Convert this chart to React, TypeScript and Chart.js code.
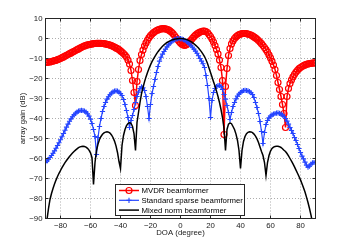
import { useEffect, useRef } from "react";
import { Chart, registerables } from "chart.js";

Chart.register(...registerables);

// DOA sample grid (degrees)
const doa = [
  -90, -89, -88, -87, -86, -85, -84, -83, -82, -81, -80, -79, -78, -77, -76, -75, -74, -73, -72, -71,
  -70, -69, -68, -67, -66, -65, -64, -63, -62, -61, -60, -59, -58, -57, -56, -55, -54, -53, -52, -51,
  -50, -49, -48, -47, -46, -45, -44, -43, -42, -41, -40, -39, -38, -37, -36, -35, -34, -33, -32, -31,
  -30, -29, -28, -27, -26, -25, -24, -23, -22, -21, -20, -19, -18, -17, -16, -15, -14, -13, -12, -11,
  -10, -9, -8, -7, -6, -5, -4, -3, -2, -1, 0, 1, 2, 3, 4, 5, 6, 7, 8, 9,
  10, 11, 12, 13, 14, 15, 16, 17, 18, 19, 20, 21, 22, 23, 24, 25, 26, 27, 28, 29,
  30, 31, 32, 33, 34, 35, 36, 37, 38, 39, 40, 41, 42, 43, 44, 45, 46, 47, 48, 49,
  50, 51, 52, 53, 54, 55, 56, 57, 58, 59, 60, 61, 62, 63, 64, 65, 66, 67, 68, 69,
  70, 71, 72, 73, 74, 75, 76, 77, 78, 79, 80, 81, 82, 83, 84, 85, 86, 87, 88, 89, 90,
];

// MVDR beamformer (dB)
const mvdrGain = [
  -12.0, -11.9, -11.8, -11.7, -11.5, -11.3, -11.1, -10.9, -10.6, -10.3, -10.0, -9.6, -9.2, -8.8, -8.4, -8.0, -7.6, -7.2, -6.8, -6.4,
  -6.0, -5.6, -5.2, -4.8, -4.4, -4.0, -3.7, -3.4, -3.2, -3.0, -2.9, -2.7, -2.6, -2.5, -2.4, -2.4, -2.4, -2.4, -2.5, -2.6,
  -2.7, -2.9, -3.1, -3.3, -3.6, -3.9, -4.3, -4.7, -5.1, -5.6, -6.2, -6.8, -7.5, -8.3, -9.3, -10.8, -12.8, -16.0, -21.0, -27.0,
  -33.5, -21.5, -15.5, -11.0, -8.0, -5.8, -3.8, -2.2, -0.8, 0.4, 1.4, 2.2, 2.9, 3.5, 4.0, 4.3, 4.6, 4.8, 4.9, 4.9,
  4.8, 4.6, 4.3, 3.8, 3.2, 2.4, 1.5, 0.5, -0.5, -1.4, -2.2, -2.9, -3.3, -3.4, -3.1, -2.5, -1.7, -0.8, 0.1, 0.9,
  1.7, 2.3, 2.8, 3.2, 3.5, 3.7, 3.7, 3.5, 3.0, 2.0, 1.0, -0.3, -1.8, -3.5, -5.5, -7.7, -10.8, -14.5, -21.0, -48.0,
  -24.0, -15.0, -8.5, -5.0, -2.7, -1.2, 0.0, 0.8, 1.4, 1.9, 2.2, 2.4, 2.5, 2.5, 2.4, 2.2, 2.0, 1.7, 1.3, 0.8,
  0.3, -0.3, -1.0, -1.8, -2.6, -3.5, -4.5, -5.6, -6.8, -8.2, -9.7, -11.4, -13.3, -15.5, -18.5, -22.0, -25.5, -29.0, -33.0, -37.5,
  -44.5, -29.0, -25.0, -22.5, -20.7, -19.2, -17.9, -16.8, -15.9, -15.1, -14.5, -14.0, -13.6, -13.2, -12.9, -12.7, -12.5, -12.4, -12.3, -12.2, -12.2,
];

// Standard sparse beamformer (dB)
const sparseGain = [
  -62.0, -61.2, -60.4, -59.5, -58.5, -57.4, -56.2, -54.9, -53.5, -52.1, -50.6, -49.1, -47.5, -45.9, -44.3, -42.8, -41.4, -40.2, -39.1, -38.2,
  -37.4, -36.8, -36.3, -36.0, -35.9, -36.0, -36.3, -36.8, -37.6, -38.8, -40.3, -42.5, -45.5, -49.0, -58.0, -49.5, -44.0, -40.0, -36.5, -34.0,
  -32.0, -30.3, -29.1, -28.1, -27.3, -26.7, -26.3, -26.2, -26.3, -26.8, -27.5, -28.5, -30.5, -33.0, -36.0, -39.5, -44.5, -41.0, -38.5, -35.5,
  -32.0, -29.0, -26.8, -25.0, -24.2, -24.6, -26.0, -29.0, -34.0, -40.0, -33.0, -27.5, -24.0, -20.5, -17.0, -14.0, -11.3, -9.4, -7.8, -6.5,
  -5.3, -4.2, -3.2, -2.4, -1.7, -1.1, -0.6, -0.3, -0.1, 0.0, -0.1, -0.3, -0.6, -1.0, -1.5, -2.1, -2.8, -3.6, -4.4, -5.3,
  -6.3, -7.4, -8.6, -10.0, -11.3, -12.6, -14.5, -18.5, -23.5, -30.0, -39.5, -31.0, -27.0, -25.0, -24.0, -23.5, -23.4, -24.0, -25.5, -28.0,
  -30.3, -33.5, -37.0, -40.5, -37.0, -34.0, -32.0, -30.2, -28.8, -27.8, -27.0, -26.4, -26.0, -25.9, -26.0, -26.2, -26.6, -27.1, -28.0, -29.5,
  -32.0, -34.5, -37.5, -41.5, -46.5, -52.5, -47.0, -43.0, -41.0, -39.7, -38.8, -38.2, -37.8, -37.5, -37.3, -37.2, -37.4, -37.8, -38.3, -39.0,
  -40.0, -41.3, -42.8, -44.5, -46.0, -47.5, -49.5, -51.0, -53.0, -55.0, -57.0, -58.8, -60.2, -61.8, -63.3, -64.3, -63.8, -62.8, -62.2, -62.0, -61.8,
];

// Mixed norm beamformer (dB)
const mixedGain = [
  -96.0, -90.5, -85.0, -80.5, -77.5, -75.0, -72.8, -70.8, -69.0, -67.4, -66.0, -64.6, -63.3, -62.1, -61.0, -60.0, -59.0, -58.1, -57.3, -56.5,
  -55.8, -55.2, -54.6, -54.2, -54.0, -53.9, -54.0, -54.3, -54.9, -55.8, -57.2, -59.6, -73.0, -62.0, -56.0, -52.8, -50.5, -49.0, -47.9, -47.2,
  -46.8, -46.6, -46.8, -47.3, -48.2, -49.5, -51.3, -53.7, -57.0, -61.5, -65.0, -53.5, -48.5, -45.5, -43.6, -42.5, -42.1, -42.4, -44.0, -47.5,
  -56.0, -42.0, -37.0, -32.0, -27.6, -24.5, -21.7, -19.2, -17.0, -15.0, -13.2, -11.6, -10.2, -8.9, -7.7, -6.6, -5.6, -4.7, -3.9, -3.2,
  -2.6, -2.0, -1.6, -1.2, -0.8, -0.6, -0.4, -0.2, -0.1, 0.0, 0.0, 0.0, -0.1, -0.3, -0.5, -0.8, -1.2, -1.6, -2.1, -2.7,
  -3.3, -4.0, -4.8, -5.7, -6.7, -7.8, -9.0, -10.6, -12.5, -14.7, -17.0, -19.3, -21.6, -23.8, -26.3, -29.0, -32.0, -35.5, -39.5, -45.0,
  -56.0, -45.5, -42.8, -42.2, -42.6, -44.0, -45.5, -47.8, -51.0, -56.0, -65.0, -56.0, -51.5, -49.0, -47.6, -46.9, -46.6, -46.7, -47.1, -47.8,
  -48.8, -50.2, -52.0, -54.3, -56.5, -58.5, -62.0, -68.5, -62.0, -58.5, -56.3, -55.0, -54.3, -54.0, -53.9, -53.9, -54.1, -54.5, -55.1, -55.9,
  -56.5, -57.5, -58.7, -60.0, -61.3, -62.7, -64.2, -65.8, -67.4, -69.0, -70.7, -72.6, -74.6, -76.8, -79.3, -82.0, -85.0, -88.3, -92.0, -97.0, -105.0,
];

const seriesLabels = ["MVDR beamformer", "Standard sparse beamformer", "Mixed norm beamformer"];
const xTickValues = [-80, -60, -40, -20, 0, 20, 40, 60, 80];
const xTitle = "DOA (degree)";
const yTitle = "array gain (dB)";

const FONT = "'Liberation Sans', Arial, Helvetica, sans-serif";
const FS = 7.8;
const TXT = "#1a1a1a";

const fmt = (v: number | string) => String(v).replace("-", "\u2212");

const framePlugin = {
  id: "frame",
  afterDatasetsDraw(chart: any) {
    const { ctx, chartArea: a, scales } = chart;
    ctx.save();
    ctx.strokeStyle = "#262626";
    ctx.lineWidth = 1;
    ctx.strokeRect(a.left, a.top, a.right - a.left, a.bottom - a.top);
    const tl = 3;
    ctx.beginPath();
    for (const v of xTickValues) {
      const px = scales.x.getPixelForValue(v);
      ctx.moveTo(px, a.bottom);
      ctx.lineTo(px, a.bottom - tl);
      ctx.moveTo(px, a.top);
      ctx.lineTo(px, a.top + tl);
    }
    for (const t of scales.y.ticks) {
      const py = scales.y.getPixelForValue(t.value);
      ctx.moveTo(a.left, py);
      ctx.lineTo(a.left + tl, py);
      ctx.moveTo(a.right, py);
      ctx.lineTo(a.right - tl, py);
    }
    ctx.stroke();
    ctx.restore();
  },
};

const legendPlugin = {
  id: "boxLegend",
  afterDraw(chart: any) {
    const { ctx } = chart;
    const bx = 115.5, by = 184.5, bw = 129, bh = 31;
    ctx.save();
    ctx.fillStyle = "#fff";
    ctx.fillRect(bx, by, bw, bh);
    ctx.strokeStyle = "#262626";
    ctx.lineWidth = 1;
    ctx.strokeRect(bx, by, bw, bh);
    chart.data.datasets.forEach((ds: any, i: number) => {
      const yy = 190.5 + i * 9.8;
      ctx.strokeStyle = ds.borderColor;
      ctx.lineWidth = ds.borderWidth;
      ctx.beginPath();
      ctx.moveTo(119, yy);
      ctx.lineTo(139, yy);
      ctx.stroke();
      const r = ds.pointRadius;
      if (r > 0) {
        ctx.lineWidth = ds.pointBorderWidth;
        ctx.beginPath();
        if (ds.pointStyle === "circle") {
          ctx.arc(129, yy, r, 0, Math.PI * 2);
        } else {
          ctx.moveTo(129 - r, yy);
          ctx.lineTo(129 + r, yy);
          ctx.moveTo(129, yy - r);
          ctx.lineTo(129, yy + r);
        }
        ctx.stroke();
      }
      ctx.fillStyle = "#000";
      ctx.font = `${FS}px ${FONT}`;
      ctx.textBaseline = "middle";
      ctx.textAlign = "left";
      ctx.fillText(ds.label, 141.5, yy + 0.5);
    });
    ctx.restore();
  },
};

export default function App() {
  const ref = useRef<HTMLCanvasElement | null>(null);

  useEffect(() => {
    if (!ref.current) return;
    const pts = (vals: number[]) => doa.map((d, i) => ({ x: d, y: vals[i] }));
    const gridCfg = { color: "rgba(0,0,0,0.32)", lineWidth: 1, drawTicks: false };
    const chart = new Chart(ref.current, {
      type: "line",
      data: {
        datasets: [
          {
            label: seriesLabels[0],
            data: pts(mvdrGain),
            borderColor: "#ff0000",
            borderWidth: 1.5,
            pointStyle: "circle",
            pointRadius: 3,
            pointBorderWidth: 1.2,
            pointBackgroundColor: "rgba(255,255,255,0)",
            pointBorderColor: "#ff0000",
            order: 3,
          },
          {
            label: seriesLabels[1],
            data: pts(sparseGain),
            borderColor: "#2444ff",
            borderWidth: 1.2,
            pointStyle: "cross",
            pointRadius: 2.6,
            pointBorderWidth: 1.1,
            pointBorderColor: "#2444ff",
            order: 2,
          },
          {
            label: seriesLabels[2],
            data: pts(mixedGain),
            borderColor: "#000000",
            borderWidth: 1.5,
            pointRadius: 0,
            order: 1,
          },
        ] as any,
      },
      options: {
        animation: false,
        responsive: false,
        maintainAspectRatio: false,
        devicePixelRatio: 1,
        layout: { padding: { left: 0, right: 32.5, top: 18.5, bottom: 0 } },
        plugins: { legend: { display: false }, tooltip: { enabled: false } },
        elements: { line: { tension: 0 } },
        scales: {
          x: {
            type: "linear",
            min: -90,
            max: 90,
            afterBuildTicks: (s: any) => {
              s.ticks = xTickValues.map((v) => ({ value: v }));
            },
            afterFit: (s: any) => {
              s.height = 27.5;
            },
            ticks: {
              padding: 3,
              color: TXT,
              maxRotation: 0,
              autoSkip: false,
              font: { family: FONT, size: FS },
              callback: (v: any) => fmt(v),
            },
            grid: gridCfg,
            border: { display: false, dash: [1, 2] },
            title: {
              display: true,
              text: xTitle,
              color: TXT,
              font: { family: FONT, size: FS },
              padding: { top: 0, bottom: 8.3 },
            },
          },
          y: {
            type: "linear",
            min: -90,
            max: 10,
            afterFit: (s: any) => {
              s.width = 45.5;
            },
            ticks: {
              stepSize: 10,
              padding: 3,
              color: TXT,
              font: { family: FONT, size: FS },
              callback: (v: any) => fmt(v),
            },
            grid: gridCfg,
            border: { display: false, dash: [1, 2] },
            title: {
              display: true,
              text: yTitle,
              color: TXT,
              font: { family: FONT, size: FS },
              padding: { top: 17.8, bottom: 0 },
            },
          },
        },
      } as any,
      plugins: [framePlugin, legendPlugin],
    });
    return () => chart.destroy();
  }, []);

  return (
    <div style={{ position: "fixed", left: 0, top: 0, width: 348, height: 246, background: "#fff" }}>
      <canvas ref={ref} width={348} height={246} style={{ width: 348, height: 246, display: "block" }} />
    </div>
  );
}
